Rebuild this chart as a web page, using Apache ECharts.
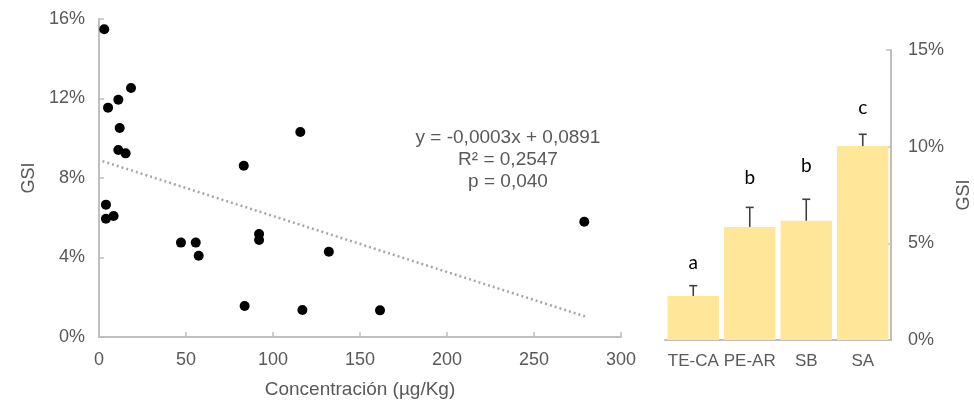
<!DOCTYPE html>
<html>
<head>
<meta charset="utf-8">
<script src="https://cdn.jsdelivr.net/npm/echarts@6/dist/echarts.min.js"></script>
<style>
  html, body { margin: 0; padding: 0; background: #fff; }
  #chart { width: 974px; height: 407px; }
</style>
</head>
<body>
<div id="chart"></div>
<script>
// scatter: concentración (µg/Kg) vs GSI (%)
const concX = [3.0, 5.2, 11.1, 18.4, 11.9, 11.1, 15.3, 83.2, 115.7, 4.0, 4.0, 8.4, 47.1, 55.6, 57.3, 92.0, 92.0, 83.7, 116.9, 132.1, 161.5, 278.9];
const gsiY = [15.48, 11.54, 11.94, 12.53, 10.52, 9.41, 9.24, 8.62, 10.31, 6.66, 5.95, 6.09, 4.75, 4.75, 4.09, 5.18, 4.88, 1.56, 1.36, 4.29, 1.34, 5.80];
// trend line end points
const trendX = [2, 281];
const trendY = [8.85, 0.99];
const equationLines = ['y = -0,0003x + 0,0891', 'R² = 0,2547', 'p = 0,040'];

// bars per site
const sites = ['TE-CA', 'PE-AR', 'SB', 'SA'];
const siteMean = [2.28, 5.85, 6.17, 10.03];
const siteErrTop = [2.81, 6.86, 7.28, 10.64];
const groupLetters = ['a', 'b', 'b', 'c'];
const letterPos = [4.0, 8.4, 9.0, 12.0];

const grey = '#595959';
const axisGrey = '#bfbfbf';
const font = 'Liberation Sans, Arial, sans-serif';

const chart = echarts.init(document.getElementById('chart'));

chart.setOption({
  animation: false,
  textStyle: { fontFamily: font },
  grid: [
    { left: 99, right: 353, top: 19, bottom: 70 },
    { left: 665, right: 83, top: 50, bottom: 67 },
  ],
  xAxis: [
    {
      gridIndex: 0,
      type: 'value',
      min: 0,
      max: 300,
      interval: 50,
      name: 'Concentración (µg/Kg)',
      nameLocation: 'middle',
      nameGap: 43,
      nameTextStyle: { color: grey, fontSize: 19, fontFamily: font },
      axisLine: { lineStyle: { color: axisGrey, width: 2 } },
      axisTick: { inside: true, length: 5, lineStyle: { color: axisGrey, width: 1.5 } },
      axisLabel: { color: grey, fontSize: 18, margin: 14 },
      splitLine: { show: false },
    },
    {
      gridIndex: 1,
      type: 'category',
      data: sites,
      axisLine: { lineStyle: { color: axisGrey, width: 2 } },
      axisTick: { show: false },
      axisLabel: { color: grey, fontSize: 17, margin: 13, interval: 0 },
    },
  ],
  yAxis: [
    {
      gridIndex: 0,
      type: 'value',
      min: 0,
      max: 16,
      interval: 4,
      name: 'GSI',
      nameLocation: 'middle',
      nameGap: 60,
      nameRotate: 90,
      nameTextStyle: { color: grey, fontSize: 18, fontFamily: font },
      axisLine: { show: true, lineStyle: { color: axisGrey, width: 2 } },
      axisTick: { show: true, inside: true, length: 5, lineStyle: { color: axisGrey, width: 1.5 } },
      axisLabel: { color: grey, fontSize: 18, margin: 14, formatter: v => v + '%' },
      splitLine: { show: false },
    },
    {
      gridIndex: 1,
      type: 'value',
      position: 'right',
      min: 0,
      max: 15,
      interval: 5,
      name: 'GSI',
      nameLocation: 'middle',
      nameGap: 64,
      nameRotate: 90,
      nameTextStyle: { color: grey, fontSize: 18, fontFamily: font },
      axisLine: { show: true, lineStyle: { color: axisGrey, width: 2 } },
      axisTick: { show: true, inside: true, length: 5, lineStyle: { color: axisGrey, width: 1.5 } },
      axisLabel: { color: grey, fontSize: 18, margin: 17, formatter: v => v + '%' },
      splitLine: { show: false },
    },
  ],
  series: [
    {
      type: 'line',
      xAxisIndex: 0,
      yAxisIndex: 0,
      data: trendX.map((x, i) => [x, trendY[i]]),
      symbol: 'none',
      lineStyle: { color: '#a6a6a6', width: 2.5, type: [2, 3] },
      z: 1,
    },
    {
      type: 'scatter',
      xAxisIndex: 0,
      yAxisIndex: 0,
      data: concX.map((x, i) => [x, gsiY[i]]),
      symbolSize: 10,
      itemStyle: { color: '#000', opacity: 1 },
      z: 3,
    },
    {
      type: 'bar',
      xAxisIndex: 1,
      yAxisIndex: 1,
      data: siteMean,
      barCategoryGap: '9%',
      itemStyle: { color: '#ffe699' },
    },
    {
      type: 'custom',
      xAxisIndex: 1,
      yAxisIndex: 1,
      data: sites.map((s, i) => [i, siteMean[i], siteErrTop[i], letterPos[i]]),
      renderItem: function (params, api) {
        const base = api.coord([api.value(0), api.value(1)]);
        const top = api.coord([api.value(0), api.value(2)]);
        const lab = api.coord([api.value(0), api.value(3)]);
        const half = 4;
        const stroke = { stroke: '#404040', lineWidth: 1.6 };
        return {
          type: 'group',
          children: [
            { type: 'line', shape: { x1: base[0], y1: base[1], x2: top[0], y2: top[1] }, style: stroke },
            { type: 'line', shape: { x1: top[0] - half, y1: top[1], x2: top[0] + half, y2: top[1] }, style: stroke },
            {
              type: 'text',
              x: lab[0],
              y: lab[1],
              style: {
                text: groupLetters[params.dataIndex],
                fill: '#000',
                font: '19px Lato, Liberation Sans, sans-serif',
                align: 'center',
                verticalAlign: 'middle',
              },
            },
          ],
        };
      },
      z: 4,
    },
  ],
  graphic: equationLines.map((t, i) => ({
    type: 'text',
    x: 508,
    y: 138 + i * 22,
    style: {
      text: t,
      fill: grey,
      font: '19px ' + font,
      align: 'center',
      verticalAlign: 'middle',
    },
  })),
});
</script>
</body>
</html>
